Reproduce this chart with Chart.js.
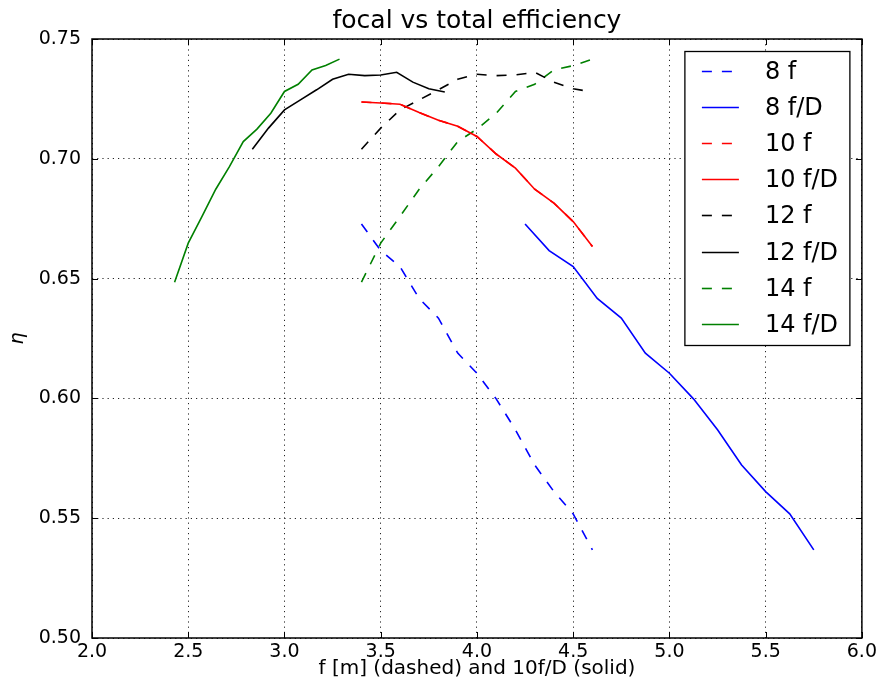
<!DOCTYPE html>
<html>
<head>
<meta charset="utf-8">
<script src="https://cdn.jsdelivr.net/npm/chart.js@4/dist/chart.umd.min.js"></script>
<style>
  html, body { margin: 0; padding: 0; background: #ffffff; }
  #wrap { width: 880px; height: 687px; }
</style>
</head>
<body>
<div id="wrap"><canvas id="c" width="880" height="687"></canvas></div>
<script>
// focal length f [m] (dashed series)
const fValues = [3.4, 3.5, 3.6, 3.7, 3.8, 3.9, 4.0, 4.1, 4.2, 4.3, 4.4, 4.5, 4.6];
// 10f/D (solid series) for each diameter D
const fD8  = [4.25, 4.375, 4.5, 4.625, 4.75, 4.875, 5.0, 5.125, 5.25, 5.375, 5.5, 5.625, 5.75];
const fD10 = [3.4, 3.5, 3.6, 3.7, 3.8, 3.9, 4.0, 4.1, 4.2, 4.3, 4.4, 4.5, 4.6];
const fD12 = [2.833, 2.917, 3.0, 3.083, 3.167, 3.25, 3.333, 3.417, 3.5, 3.583, 3.667, 3.75, 3.833];
const fD14 = [2.429, 2.5, 2.571, 2.643, 2.714, 2.786, 2.857, 2.929, 3.0, 3.071, 3.143, 3.214, 3.286];
// total efficiency eta
const eta8  = [0.6728, 0.6617, 0.6550, 0.6417, 0.6335, 0.6189, 0.6105, 0.5998, 0.5869, 0.5722, 0.5611, 0.5518, 0.5368];
const eta10 = [0.7237, 0.7233, 0.7228, 0.7193, 0.7161, 0.7136, 0.7093, 0.7020, 0.6961, 0.6873, 0.6815, 0.6738, 0.6634];
const eta12 = [0.7040, 0.7128, 0.7204, 0.7246, 0.7288, 0.7332, 0.7353, 0.7347, 0.7350, 0.7361, 0.7320, 0.7292, 0.7279];
const eta14 = [0.6485, 0.6648, 0.6759, 0.6873, 0.6967, 0.7072, 0.7124, 0.7190, 0.7281, 0.7311, 0.7371, 0.7389, 0.7416];
const seriesLabels = ['8 f', '8 f/D', '10 f', '10 f/D', '12 f', '12 f/D', '14 f', '14 f/D'];
const xTickLabels = ['2.0', '2.5', '3.0', '3.5', '4.0', '4.5', '5.0', '5.5', '6.0'];
const yTickLabels = ['0.50', '0.55', '0.60', '0.65', '0.70', '0.75'];

const FONT = 'DejaVu Sans';
Chart.defaults.font.family = FONT;
Chart.defaults.color = '#000000';

function pts(xs, ys) { return xs.map((x, i) => ({ x: x, y: ys[i] })); }
const DASH = [10, 10];
function ds(label, xs, ys, color, dashed) {
  return {
    label: label,
    data: pts(xs, ys),
    showLine: true,
    borderColor: color,
    backgroundColor: color,
    borderWidth: 1.6,
    borderDash: dashed ? DASH : [],
    pointRadius: 0,
    pointHoverRadius: 0,
    tension: 0,
    fill: false
  };
}

const datasets = [
  ds(seriesLabels[0], fValues, eta8, '#0000ff', true),
  ds(seriesLabels[1], fD8, eta8, '#0000ff', false),
  ds(seriesLabels[2], fValues, eta10, '#ff0000', true),
  ds(seriesLabels[3], fD10, eta10, '#ff0000', false),
  ds(seriesLabels[4], fValues, eta12, '#000000', true),
  ds(seriesLabels[5], fD12, eta12, '#000000', false),
  ds(seriesLabels[6], fValues, eta14, '#008000', true),
  ds(seriesLabels[7], fD14, eta14, '#008000', false)
];

const framePlugin = {
  id: 'frame',
  afterDraw(chart) {
    const ctx = chart.ctx;
    const a = chart.chartArea;
    const xs = chart.scales.x, ys = chart.scales.y;
    ctx.save();
    // inward tick marks on all four sides
    ctx.strokeStyle = '#000';
    ctx.lineWidth = 1;
    ctx.setLineDash([]);
    const TL = 6;
    xTickLabels.forEach(t => {
      const px = Math.round(xs.getPixelForValue(parseFloat(t))) + 0.5;
      ctx.beginPath();
      ctx.moveTo(px, a.bottom); ctx.lineTo(px, a.bottom - TL);
      ctx.moveTo(px, a.top); ctx.lineTo(px, a.top + TL);
      ctx.stroke();
    });
    yTickLabels.forEach(t => {
      const py = Math.round(ys.getPixelForValue(parseFloat(t))) + 0.5;
      ctx.beginPath();
      ctx.moveTo(a.left, py); ctx.lineTo(a.left + TL, py);
      ctx.moveTo(a.right, py); ctx.lineTo(a.right - TL, py);
      ctx.stroke();
    });
    // axes frame
    ctx.lineWidth = 1.5;
    ctx.strokeRect(a.left, a.top, a.right - a.left, a.bottom - a.top);

    // legend (upper right, inside axes)
    const lw = 165, lh = 294;
    const lx = a.right - 12 - lw;
    const ly = a.top + 12.5;
    ctx.fillStyle = '#ffffff';
    ctx.fillRect(lx, ly, lw, lh);
    ctx.lineWidth = 1.3;
    ctx.strokeStyle = '#000';
    ctx.strokeRect(lx, ly, lw, lh);
    ctx.font = '24px "' + FONT + '"';
    ctx.textBaseline = 'middle';
    ctx.textAlign = 'left';
    chart.data.datasets.forEach((d, i) => {
      const cy = Math.round(ly + 19.5 + i * 36.1) + 0.5;
      ctx.strokeStyle = d.borderColor;
      ctx.lineWidth = d.borderWidth;
      ctx.setLineDash(d.borderDash || []);
      ctx.beginPath();
      ctx.moveTo(lx + 17, cy);
      ctx.lineTo(lx + 54, cy);
      ctx.stroke();
      ctx.setLineDash([]);
      ctx.fillStyle = '#000';
      ctx.fillText(d.label, lx + 80, cy + 1);
    });
    ctx.restore();
  }
};

new Chart(document.getElementById('c'), {
  type: 'scatter',
  data: { datasets: datasets },
  plugins: [framePlugin],
  options: {
    responsive: false,
    animation: false,
    events: [],
    layout: { padding: { left: 0, right: 15, top: 0, bottom: 0 } },
    plugins: {
      legend: { display: false },
      tooltip: { enabled: false },
      title: {
        display: true,
        fullSize: false,
        text: 'focal vs total efficiency',
        color: '#000',
        font: { size: 25, weight: 'normal', family: FONT, lineHeight: 1.2 },
        padding: { top: 6, bottom: 3 }
      }
    },
    scales: {
      x: {
        type: 'linear',
        min: 2, max: 6,
        afterFit(scale) { scale.height = 49; },
        afterBuildTicks(scale) { scale.ticks = xTickLabels.map(t => ({ value: parseFloat(t) })); },
        ticks: {
          callback: (v, i) => xTickLabels[i],
          font: { size: 19, family: FONT },
          color: '#000',
          padding: 3,
          maxRotation: 0,
          autoSkip: false
        },
        grid: { color: 'rgba(0,0,0,0.85)', lineWidth: 1, drawTicks: false },
        border: { display: false, dash: [1.2, 4] },
        title: {
          display: true,
          text: 'f [m] (dashed) and 10f/D (solid)',
          color: '#000',
          font: { size: 20, family: FONT },
          padding: { top: 0, bottom: 6 }
        }
      },
      y: {
        type: 'linear',
        min: 0.5, max: 0.75,
        afterFit(scale) { scale.width = 92; },
        afterBuildTicks(scale) { scale.ticks = yTickLabels.map(t => ({ value: parseFloat(t) })); },
        ticks: {
          callback: (v, i) => yTickLabels[i],
          font: { size: 19, family: FONT },
          color: '#000',
          padding: 11,
          autoSkip: false
        },
        grid: { color: 'rgba(0,0,0,0.85)', lineWidth: 1, drawTicks: false },
        border: { display: false, dash: [1.2, 4] },
        title: {
          display: true,
          text: 'η',
          color: '#000',
          font: { size: 19, family: FONT, style: 'italic' },
          padding: { top: 7, bottom: 0 }
        }
      }
    }
  }
});
</script>
</body>
</html>
